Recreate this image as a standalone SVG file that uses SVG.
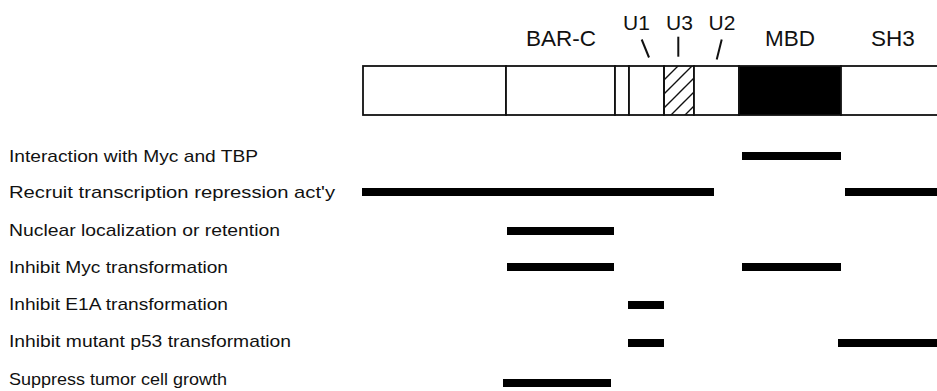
<svg xmlns="http://www.w3.org/2000/svg" width="937" height="391" viewBox="0 0 937 391">
<style>
.lbl{font-family:"Liberation Sans",Arial,Helvetica,sans-serif;font-size:16.4px;fill:#111}
.dom{font-family:"Liberation Sans",Arial,Helvetica,sans-serif;font-size:22.5px;fill:#111;text-anchor:middle}
.u{font-family:"Liberation Sans",Arial,Helvetica,sans-serif;font-size:21px;fill:#111;text-anchor:middle}
.seg{fill:#fff;stroke:#111;stroke-width:1.8}
.bar{fill:#000}
.tick{stroke:#111;stroke-width:2;fill:none}
</style>
<defs>
<pattern id="hatch" patternUnits="userSpaceOnUse" width="14" height="14" x="664" y="66">
<path d="M0,14 L14,0 M-4,4 L4,-4 M10,18 L18,10" stroke="#111" stroke-width="1.4"/>
</pattern>
</defs>
<rect width="937" height="391" fill="#fff"/>
<g id="protein">
<rect class="seg" x="363" y="66" width="143" height="49"/>
<rect class="seg" x="506" y="66" width="109" height="49"/>
<rect class="seg" x="615" y="66" width="14" height="49"/>
<rect class="seg" x="629" y="66" width="35" height="49"/>
<rect class="seg" x="664" y="66" width="30" height="49" style="fill:url(#hatch)"/>
<rect class="seg" x="694" y="66" width="45" height="49"/>
<rect x="739" y="66" width="102" height="49" fill="#000" stroke="#111" stroke-width="1.8"/>
<rect class="seg" x="841" y="66" width="100" height="49"/>
</g>
<g id="domain-labels">
<text class="dom" x="561" y="46">BAR-C</text>
<text class="dom" x="790" y="46">MBD</text>
<text class="dom" x="893" y="46">SH3</text>
<text class="u" x="636.5" y="30">U1</text>
<text class="u" x="679.5" y="30">U3</text>
<text class="u" x="722" y="30">U2</text>
</g>
<g id="connectors">
<line class="tick" x1="641.7" y1="39.5" x2="649" y2="57.5"/>
<line class="tick" x1="678.3" y1="36.7" x2="678.3" y2="56.7"/>
<line class="tick" x1="721.7" y1="39.5" x2="716.7" y2="59.5"/>
</g>
<g id="function-labels">
<text class="lbl" x="9" y="162" textLength="249" lengthAdjust="spacingAndGlyphs">Interaction with Myc and TBP</text>
<text class="lbl" x="9" y="198" textLength="326" lengthAdjust="spacingAndGlyphs">Recruit transcription repression act'y</text>
<text class="lbl" x="9" y="236" textLength="271" lengthAdjust="spacingAndGlyphs">Nuclear localization or retention</text>
<text class="lbl" x="9" y="273" textLength="219" lengthAdjust="spacingAndGlyphs">Inhibit Myc transformation</text>
<text class="lbl" x="9" y="310" textLength="219" lengthAdjust="spacingAndGlyphs">Inhibit E1A transformation</text>
<text class="lbl" x="9" y="347" textLength="282" lengthAdjust="spacingAndGlyphs">Inhibit mutant p53 transformation</text>
<text class="lbl" x="9" y="385" textLength="218" lengthAdjust="spacingAndGlyphs">Suppress tumor cell growth</text>
</g>
<g id="function-bars">
<rect class="bar" x="742" y="152" width="99" height="8"/>
<rect class="bar" x="362" y="188" width="352" height="8"/>
<rect class="bar" x="845" y="188" width="92" height="8"/>
<rect class="bar" x="507" y="227" width="107" height="8"/>
<rect class="bar" x="507" y="263" width="107" height="8"/>
<rect class="bar" x="742" y="263" width="99" height="8"/>
<rect class="bar" x="628" y="301" width="36" height="8"/>
<rect class="bar" x="628" y="339" width="36" height="8"/>
<rect class="bar" x="838" y="339" width="99" height="8"/>
<rect class="bar" x="503" y="379" width="108" height="8"/>
</g>
</svg>
